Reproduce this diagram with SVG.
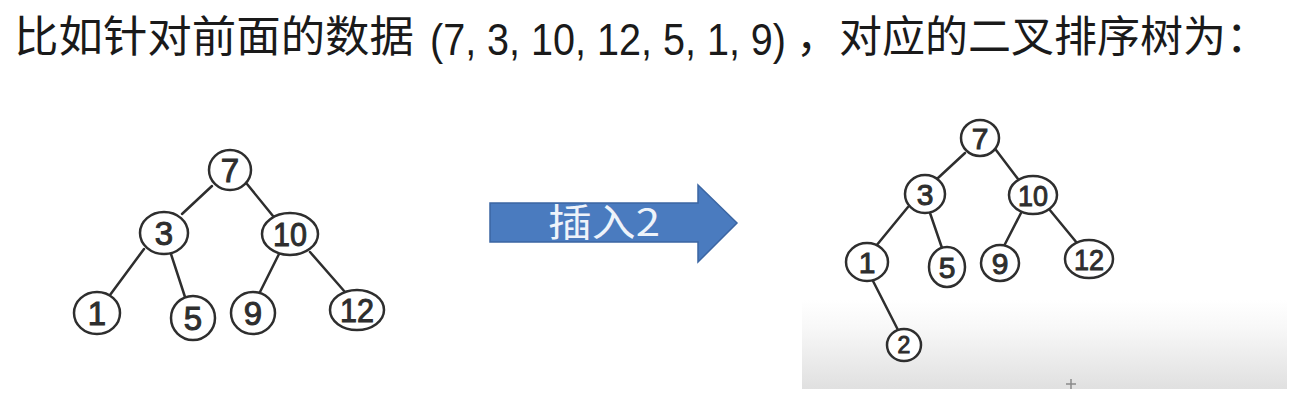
<svg xmlns="http://www.w3.org/2000/svg" width="1302" height="403" viewBox="0 0 1302 403">
<defs>
<linearGradient id="shade" x1="0" y1="0" x2="0" y2="1">
<stop offset="0" stop-color="#ffffff"/>
<stop offset="0.3" stop-color="#f8f8f8"/>
<stop offset="1" stop-color="#e0e0e0"/>
</linearGradient>
</defs>
<style>
.title{font-family:"Noto Sans CJK SC","Liberation Sans",sans-serif;font-size:43px;fill:#1a1a1a}
.lat{font-family:"Liberation Sans","Noto Sans CJK SC",sans-serif;font-size:45px;fill:#1a1a1a}
.node ellipse{fill:#ffffff;stroke:#2e2e2e;stroke-width:2.5}
.node text{font-family:"Liberation Sans",Arial,sans-serif;fill:#2e2e2e;stroke:#2e2e2e;stroke-width:1;text-anchor:middle}
.big text{font-size:33px}
.small text{font-size:30px}
.edges line{stroke:#2e2e2e;stroke-width:2.5;stroke-linecap:round}
.label{font-family:"Noto Sans CJK SC","Liberation Sans",sans-serif;font-size:38px;fill:#eef3fa}
</style>
<rect width="1302" height="403" fill="#ffffff"/>
<rect x="802" y="300" width="485" height="89" fill="url(#shade)"/>
<g id="title">
<text class="title" x="14" y="52" textLength="400" lengthAdjust="spacingAndGlyphs">比如针对前面的数据</text>
<text class="lat" x="430" y="55" textLength="356" lengthAdjust="spacingAndGlyphs">(7, 3, 10, 12, 5, 1, 9)</text>
<text class="title" x="796" y="52" textLength="473" lengthAdjust="spacing">，对应的二叉排序树为：</text>
</g>
<g id="edges-left" class="edges">
<line x1="212" y1="186" x2="182" y2="214"/>
<line x1="247" y1="184" x2="273" y2="216"/>
<line x1="144" y1="249" x2="110" y2="295"/>
<line x1="171" y1="254" x2="185" y2="297"/>
<line x1="279" y1="254" x2="259" y2="294"/>
<line x1="310" y1="252" x2="345" y2="292"/>
</g>
<g id="L7" class="node big"><ellipse cx="230" cy="170" rx="21" ry="20"/><text x="230" y="182">7</text></g>
<g id="L3" class="node big"><ellipse cx="164" cy="233" rx="24" ry="21"/><text x="164" y="245">3</text></g>
<g id="L10" class="node big"><ellipse cx="290" cy="234" rx="28" ry="21"/><text x="290" y="246" textLength="34" lengthAdjust="spacingAndGlyphs">10</text></g>
<g id="L1" class="node big"><ellipse cx="97" cy="313" rx="23" ry="21"/><text x="97" y="325">1</text></g>
<g id="L5" class="node big"><ellipse cx="193" cy="318" rx="22" ry="22"/><text x="193" y="330">5</text></g>
<g id="L9" class="node big"><ellipse cx="253" cy="313" rx="22" ry="21"/><text x="253" y="325">9</text></g>
<g id="L12" class="node big"><ellipse cx="357" cy="310" rx="27" ry="20"/><text x="357" y="322" textLength="34" lengthAdjust="spacingAndGlyphs">12</text></g>
<g id="arrow">
<path d="M490 203 H698 V185 L737 223 L698 262 V242 H490 Z" fill="#4a7bbf" stroke="#3b66a3" stroke-width="1.5"/>
<text class="label" x="548" y="236" textLength="112" lengthAdjust="spacingAndGlyphs">插入2</text>
</g>
<g id="edges-right" class="edges">
<line x1="965" y1="153" x2="938" y2="178"/>
<line x1="996" y1="150" x2="1018" y2="179"/>
<line x1="908" y1="207" x2="876" y2="246"/>
<line x1="930" y1="213" x2="942" y2="248"/>
<line x1="1021" y1="213" x2="1004" y2="246"/>
<line x1="1049" y1="209" x2="1077" y2="243"/>
<line x1="873" y1="281" x2="898" y2="330"/>
</g>
<g id="R7" class="node small"><ellipse cx="980" cy="138" rx="19" ry="18"/><text x="980" y="149">7</text></g>
<g id="R3" class="node small"><ellipse cx="925" cy="194" rx="20" ry="19"/><text x="925" y="205">3</text></g>
<g id="R10" class="node small"><ellipse cx="1033" cy="195" rx="24" ry="19"/><text x="1033" y="206" textLength="30" lengthAdjust="spacingAndGlyphs">10</text></g>
<g id="R1" class="node small"><ellipse cx="867" cy="262" rx="21" ry="19"/><text x="867" y="273">1</text></g>
<g id="R5" class="node small"><ellipse cx="947" cy="267" rx="18" ry="20"/><text x="947" y="278">5</text></g>
<g id="R9" class="node small"><ellipse cx="1000" cy="263" rx="19" ry="18"/><text x="1000" y="274">9</text></g>
<g id="R12" class="node small"><ellipse cx="1089" cy="259" rx="24" ry="19"/><text x="1089" y="270" textLength="30" lengthAdjust="spacingAndGlyphs">12</text></g>
<g id="R2" class="node"><ellipse cx="904" cy="345" rx="17" ry="16"/><text x="904" y="353" font-size="23">2</text></g>
<g id="cursor" stroke="#8a8a8a" stroke-width="1.5">
<line x1="1066" y1="384" x2="1076" y2="384"/>
<line x1="1071" y1="379" x2="1071" y2="389"/>
</g>
</svg>
